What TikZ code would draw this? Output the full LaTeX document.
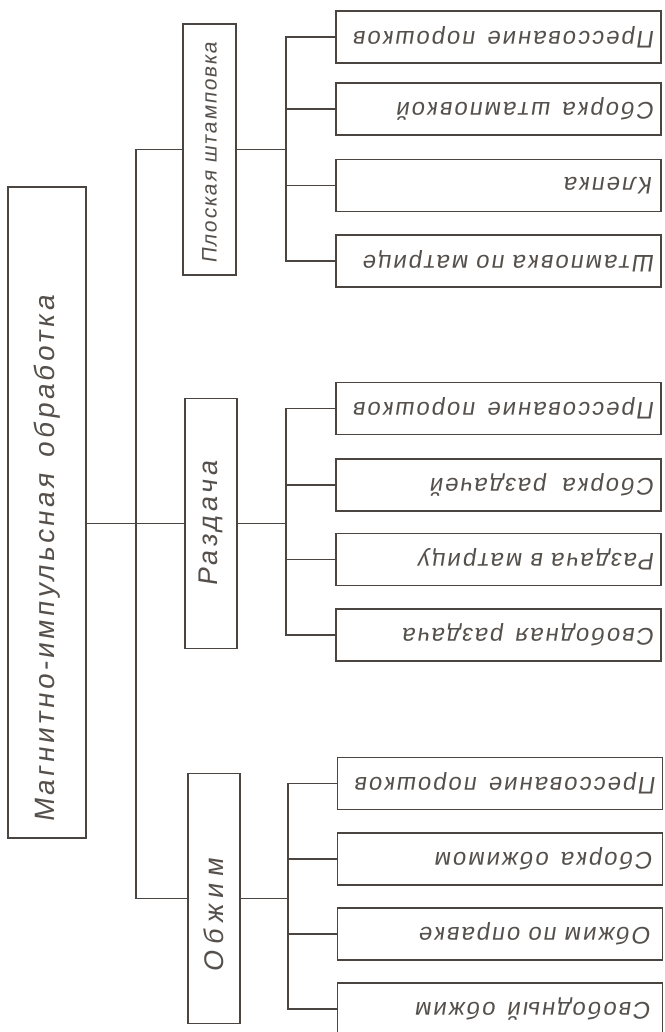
\documentclass[tikz,border=0pt]{standalone}
\usepackage{fontspec}
\setmainfont{Liberation Sans}
\newfontfamily\handfam[FakeSlant=0.15]{Liberation Sans}
\definecolor{ink}{HTML}{4A4540}
\definecolor{inkt}{HTML}{55504B}
\newcommand{\upside}[1]{\rotatebox{180}{#1}}
\newcommand{\sideup}[2]{\rotatebox{90}{\makebox[#1][l]{#2}}}
\tikzset{
  conn/.style={draw=ink, line width=1.8pt},
  box/.style={draw=ink, line width=1.8pt, fill=white, inner sep=0pt, rectangle, text=inkt},
  leafbox/.style={box, minimum width=325pt, minimum height=52pt, text width=313pt, align=right,
    font=\handfam\addfontfeatures{LetterSpace=8}\fontsize{24}{26}\selectfont},
  midbox/.style={box, minimum width=52pt, minimum height=250pt},
  rootbox/.style={box, minimum width=78pt, minimum height=651pt,
    font=\handfam\addfontfeatures{LetterSpace=12}\fontsize{28}{30}\selectfont},
}
\begin{document}
\begin{tikzpicture}[x=1pt,y=1pt]
\useasboundingbox[fill=white] (0,0) rectangle (664,1032);
% root
\node[rootbox] (root) at (47,519.5) {\sideup{621pt}{Магнитно-импульсная\hspace{16pt}обработка}};
% middle boxes
\node[midbox, minimum height=251pt, minimum width=53pt,
  font=\handfam\addfontfeatures{LetterSpace=8}\fontsize{21}{23}\selectfont] (P1) at (209.5,882.5)
  {\sideup{229pt}{Плоская штамповка}};
\node[midbox, font=\handfam\addfontfeatures{LetterSpace=14}\fontsize{27}{29}\selectfont] (P2) at (211,508.5)
  {\sideup{127pt}{Раздача}};
\node[midbox, font=\handfam\addfontfeatures{LetterSpace=24}\fontsize{27}{29}\selectfont] (P3) at (214,133.5)
  {\sideup{149pt}{Обжим}};
% bus coordinates
\coordinate (bus) at (136,0);
\coordinate (b1) at (286,0);
\coordinate (b2) at (286,0);
\coordinate (b3) at (288,0);
% leaves group 1
\node[leafbox] (L11) at (498.5,995) {\upside{Прессование\hspace{12pt}порошков}};
\node[leafbox] (L12) at (498.5,923) {\upside{Сборка\hspace{12pt}штамповкой}};
\node[leafbox] (L13) at (498.5,846.5) {\upside{Клепка}\hspace*{2pt}};
\node[leafbox] (L14) at (498.5,771) {\upside{Штамповка по матрице}};
% leaves group 2
\node[leafbox] (L21) at (498.5,623.5) {\upside{Прессование\hspace{12pt}порошков}};
\node[leafbox] (L22) at (498.5,547) {\upside{Сборка\hspace{16pt}раздачей}};
\node[leafbox] (L23) at (498.5,472.5) {\upside{Раздача в матрицу}};
\node[leafbox] (L24) at (498.5,397) {\upside{Свободная\hspace{12pt}раздача}};
% leaves group 3
\node[leafbox] (L31) at (500,248.5) {\upside{Прессование\hspace{12pt}порошков}};
\node[leafbox] (L32) at (500,173) {\upside{Сборка\hspace{12pt}обжимом}\hspace*{3pt}};
\node[leafbox] (L33) at (500,98) {\upside{Обжим по оправке}\hspace*{5pt}};
\node[leafbox] (L34) at (500,23) {\upside{Свободный\hspace{12pt}обжим}\hspace*{5pt}};
% connectors root -> middle
\draw[conn] (P2.west -| root.east) -- (P2.west);
\draw[conn] (P1.west) -- (P1.west -| bus) -- (P3.west -| bus) -- (P3.west);
% group 1
\draw[conn] (P1.east) -- (P1.east -| b1);
\draw[conn] (L11.west) -- (L11.west -| b1) -- (L14.west -| b1) -- (L14.west);
\draw[conn] (L12.west -| b1) -- (L12.west);
\draw[conn] (L13.west -| b1) -- (L13.west);
% group 2
\draw[conn] (P2.east) -- (P2.east -| b2);
\draw[conn] (L21.west) -- (L21.west -| b2) -- (L24.west -| b2) -- (L24.west);
\draw[conn] (L22.west -| b2) -- (L22.west);
\draw[conn] (L23.west -| b2) -- (L23.west);
% group 3
\draw[conn] (P3.east) -- (P3.east -| b3);
\draw[conn] (L31.west) -- (L31.west -| b3) -- (L34.west -| b3) -- (L34.west);
\draw[conn] (L32.west -| b3) -- (L32.west);
\draw[conn] (L33.west -| b3) -- (L33.west);
\end{tikzpicture}
\end{document}
